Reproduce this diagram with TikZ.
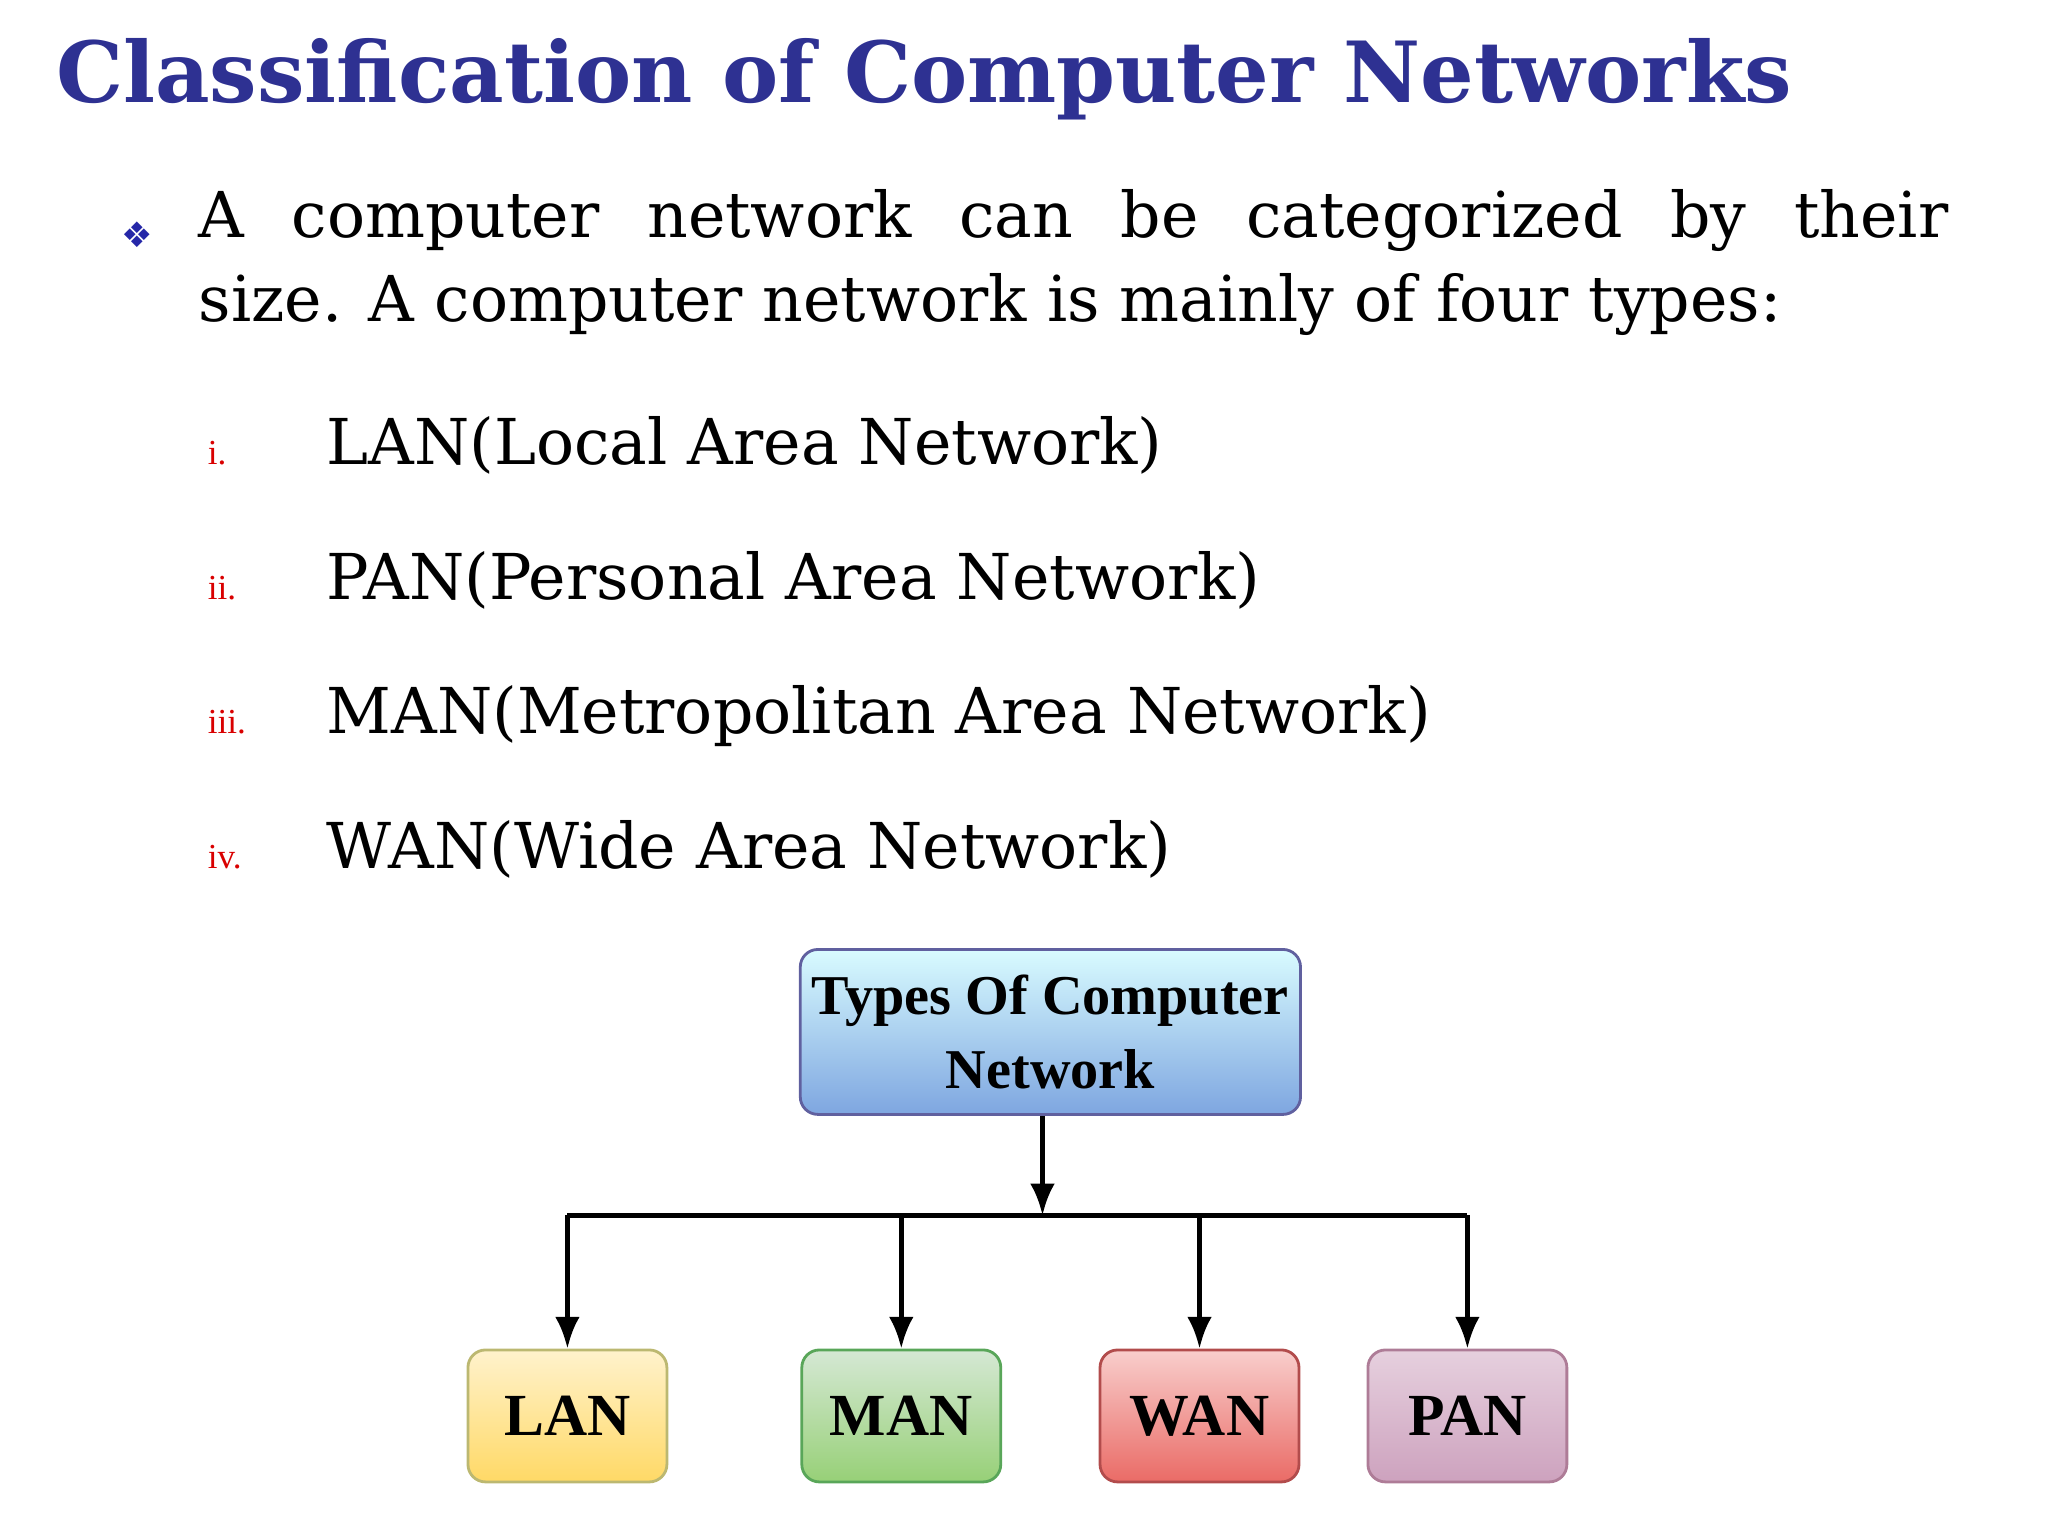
\documentclass[tikz,border=0pt]{standalone}
\usepackage{fontspec}
\setmainfont{DejaVu Serif}
\newfontfamily\tnr{Liberation Serif}
\newfontfamily\djs{DejaVu Sans}
\usetikzlibrary{arrows.meta}
\definecolor{ttl}{HTML}{2E3192}
\tikzset{
 px/.style={x=0.0132cm,y=-0.0132cm},
 box/.style={draw=#1, line width=0.8pt, rounded corners=5pt, minimum width=1.99cm, minimum height=1.32cm, font=\tnr\bfseries\fontsize{17}{19}\selectfont},
 conn/.style={line width=1.4pt,-{Latex[length=9pt,width=7pt]}},
 num/.style={anchor=base west, inner sep=0, text=red!85!black, font=\tnr\fontsize{10}{12}\selectfont},
 item/.style={anchor=base west, inner sep=0, font=\fontsize{18}{22}\selectfont}
}
\begin{document}
\begin{tikzpicture}[px]
\useasboundingbox (0,0) rectangle (1552,1164);
\node[anchor=base west, text=ttl, font=\bfseries\fontsize{24}{30}\selectfont, inner sep=0] (title) at (42,78) {Classification of Computer Networks};
\node[text=ttl!80!blue, font=\djs\fontsize{10}{12}\selectfont] (bul) at (104,178) {❖};
\node[anchor=north west, inner sep=0, text width=17.5cm, align=justify, font=\fontsize{18}{24}\selectfont] (para) at (150,143) {A computer network can be categorized by their\linebreak size. A computer network is mainly of four types:};
\node[num] (n1) at (157,352) {i.};
\node[num] (n2) at (157,454) {ii.};
\node[num] (n3) at (157,556) {iii.};
\node[num] (n4) at (157,658) {iv.};
\node[item] (t1) at (247,352) {LAN(Local Area Network)};
\node[item] (t2) at (247,454) {PAN(Personal Area Network)};
\node[item] (t3) at (247,556) {MAN(Metropolitan Area Network)};
\node[item] (t4) at (247,658) {WAN(Wide Area Network)};

\node[box=blue!25!gray, top color=blue!10!cyan!15, bottom color={rgb,255:red,126;green,166;blue,224}, minimum width=4.99cm, minimum height=1.65cm, align=center, font=\tnr\bfseries\fontsize{16}{21}\selectfont] (root) at (796,782) {Types Of Computer\\Network};
\node[box=yellow!40!gray, top color={rgb,255:red,255;green,242;blue,204}, bottom color={rgb,255:red,255;green,217;blue,102}] (lan) at (430,1073) {LAN};
\node[box=green!30!gray, top color={rgb,255:red,213;green,232;blue,212}, bottom color={rgb,255:red,151;green,208;blue,119}] (man) at (683,1073) {MAN};
\node[box=red!40!gray, top color={rgb,255:red,248;green,206;blue,204}, bottom color={rgb,255:red,234;green,107;blue,102}] (wan) at (909,1073) {WAN};
\node[box=magenta!30!gray, top color={rgb,255:red,230;green,208;blue,222}, bottom color={rgb,255:red,205;green,162;blue,190}] (pan) at (1112,1073) {PAN};

\coordinate (bus) at (790,921);
\draw[conn] (root.south -| bus) -- (bus);
\draw[line width=1.4pt] (bus -| lan) -- (bus -| pan);
\draw[conn] (bus -| lan) -- (lan.north);
\draw[conn] (bus -| man) -- (man.north);
\draw[conn] (bus -| wan) -- (wan.north);
\draw[conn] (bus -| pan) -- (pan.north);
\end{tikzpicture}
\end{document}
